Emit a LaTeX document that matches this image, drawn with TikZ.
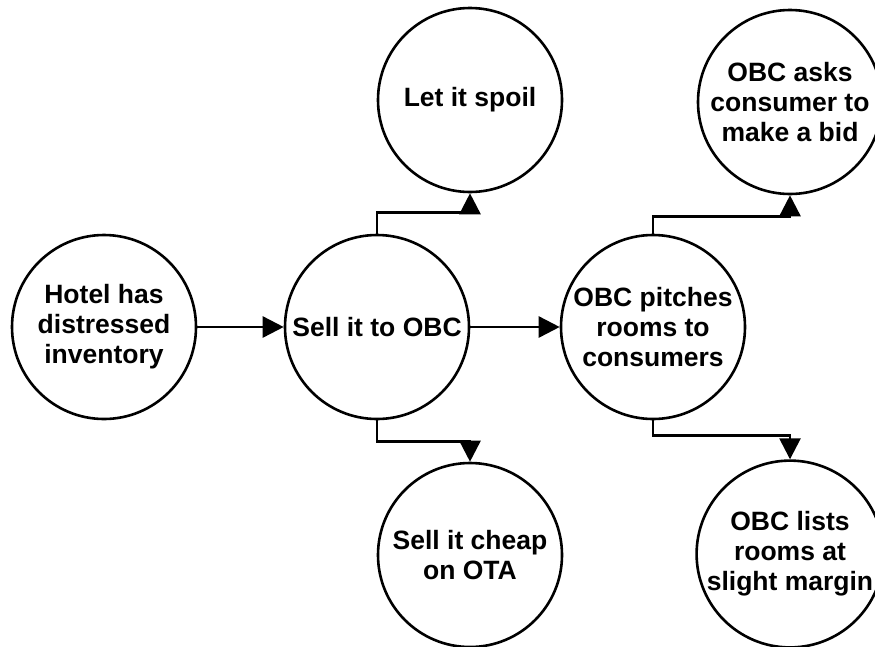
\documentclass[tikz,border=0pt]{standalone}
\usepackage{fontspec}
\setmainfont{Liberation Sans}
\usetikzlibrary{arrows.meta}
\begin{document}
\begin{tikzpicture}[x=1pt,y=-1pt,
  bubble/.style={draw=black, line width=2.6pt, circle, minimum size=184pt, inner sep=0pt,
    align=center, font=\fontsize{26.5}{30}\selectfont\bfseries, fill=white},
  arr/.style={line width=2.6pt, -{Triangle[length=21pt,width=21pt]}}]
\useasboundingbox (0,0) rectangle (875,646);
\clip (0,0) rectangle (875,646);
\node[bubble] (hotel) at (104,327) {Hotel has\\distressed\\inventory};
\node[bubble] (sell) at (377,327) {Sell it to OBC};
\node[bubble] (spoil) at (470,100) {Let it spoil};
\node[bubble] (ota) at (470,555) {Sell it cheap\\on OTA};
\node[bubble] (pitch) at (653,327) {OBC pitches\\rooms to\\consumers};
\node[bubble] (asks) at (790,102) {OBC asks\\consumer to\\make a bid};
\node[bubble] (lists) at (790,554) {OBC lists\\rooms at\\slight margin};
\draw[arr] (hotel.east) -- (sell.west);
\draw[arr] (sell.east) -- (pitch.west);
\draw[arr] (sell.north) -- ++(0,-21) -| (spoil.south);
\draw[arr] (sell.south) -- ++(0,21) -| (ota.north);
\draw[arr] (pitch.north) -- ++(0,-17) -| (asks.south);
\draw[arr] (pitch.south) -- ++(0,15) -| (lists.north);
\end{tikzpicture}
\end{document}
